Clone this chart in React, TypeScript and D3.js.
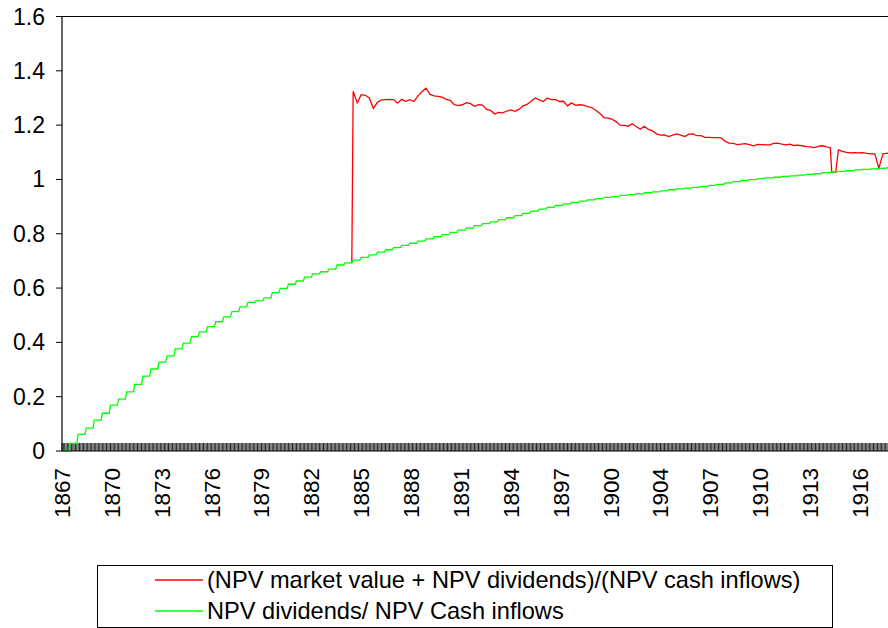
import React from 'react';
import * as d3 from 'd3';

// Category axis: monthly observations starting Jan 1867, label every 37 months
const tickLabels = ['1867', '1870', '1873', '1876', '1879', '1882', '1885', '1888', '1891', '1894', '1897', '1900', '1904', '1907', '1910', '1913', '1916'];
const labelEvery = 37;
const monthCount = 618;

// NPV dividends / NPV cash inflows: one level per half-year (steps at each dividend)
const greenLevels = [
  0, 0.028, 0.061, 0.084, 0.114, 0.139, 0.169, 0.191, 0.218, 0.245,
  0.276, 0.302, 0.327, 0.350, 0.376, 0.397, 0.421, 0.439, 0.458, 0.476,
  0.494, 0.513, 0.531, 0.547, 0.553, 0.564, 0.583, 0.599, 0.614, 0.626,
  0.640, 0.652, 0.660, 0.670, 0.685, 0.693, 0.703,
  0.713, 0.722, 0.732, 0.741, 0.749, 0.757, 0.765, 0.773, 0.781, 0.789,
  0.797, 0.805, 0.813, 0.821, 0.830, 0.837, 0.844, 0.852, 0.859, 0.867,
  0.875, 0.883, 0.891, 0.897, 0.904, 0.910, 0.915, 0.920, 0.925, 0.929,
  0.934, 0.937, 0.941, 0.944, 0.947, 0.951, 0.954, 0.958, 0.962, 0.965,
  0.968, 0.971, 0.974, 0.978, 0.982, 0.987, 0.992, 0.996, 0.999, 1.003,
  1.006, 1.008, 1.011, 1.013, 1.016, 1.019, 1.021, 1.025, 1.027, 1.030,
  1.032, 1.035, 1.037, 1.039, 1.041, 1.043,
];

// (NPV market value + NPV dividends)/(NPV cash inflows): sampled every 3 months from Jan 1885
const redStart = 216;
const redStep = 3;
const redValues: (number | null)[] = [
  1.325, 1.282, 1.312, 1.310, 1.300, 1.262, 1.284, 1.293, 1.294, 1.295,
  1.294, 1.281, 1.295, 1.288, 1.294, 1.287, 1.307, 1.323, 1.336, 1.313,
  1.308, 1.306, 1.303, 1.295, 1.291, 1.275, 1.272, 1.275, 1.283, 1.279,
  1.269, 1.275, 1.274, 1.258, 1.254, 1.241, 1.247, 1.245, 1.252, 1.256,
  1.251, 1.258, 1.271, 1.276, 1.288, 1.300, 1.293, 1.287, 1.300, 1.294,
  1.295, 1.287, 1.288, 1.271, 1.282, 1.273, 1.275, 1.274, 1.268, 1.264,
  1.255, 1.243, 1.228, 1.226, 1.222, 1.213, 1.200, 1.199, 1.196, 1.205,
  1.195, 1.185, 1.196, 1.184, 1.179, 1.168, 1.163, 1.164, 1.158, 1.163,
  1.168, 1.163, 1.158, 1.167, 1.168, 1.161, 1.161, 1.155, 1.155, 1.154,
  1.154, 1.153, 1.140, 1.134, 1.133, 1.128, 1.130, 1.132, 1.128, 1.124,
  1.129, 1.128, 1.127, 1.127, 1.133, 1.134, 1.130, 1.127, 1.130, 1.125,
  1.126, 1.124, 1.121, 1.120, 1.117, 1.122, 1.124, 1.120, 1.117, null,
  1.109, 1.103, 1.100, 1.098, 1.099, 1.098, 1.099, 1.096, 1.094, 1.094,
  null, 1.094, 1.096, 1.098,
];
// months without a market value (exchange closed) -> ratio falls back to dividends only
const closedMonths = [571, 572, 573, 574, 606];

const yTickValues = [0, 0.2, 0.4, 0.6, 0.8, 1, 1.2, 1.4, 1.6];
const yTickLabels = ['0', '0.2', '0.4', '0.6', '0.8', '1', '1.2', '1.4', '1.6'];
const seriesNames = ['(NPV market value + NPV dividends)/(NPV cash inflows)', 'NPV dividends/ NPV Cash inflows'];
const seriesColors = ['#ff0000', '#00ff00'];

const FONT = 'Arial, "Liberation Sans", sans-serif';

export default function App() {
  const W = 888;
  const H = 628;
  const x = d3.scaleLinear().domain([0, 592]).range([62, 860]);
  const y = d3.scaleLinear().domain([0, 1.6]).range([451, 16.5]);

  const greenAt = (i: number) => greenLevels[Math.min(Math.floor(i / 6), greenLevels.length - 1)];
  const greenPts: [number, number][] = d3.range(monthCount).map((i) => [i, greenAt(i)]);

  const redPts: [number, number][] = [[redStart - 1, greenAt(redStart - 1)]];
  redValues.forEach((v, k) => {
    const i = redStart + k * redStep;
    if (v != null && !closedMonths.includes(i)) redPts.push([i, v]);
  });
  closedMonths.forEach((i) => redPts.push([i, greenAt(i)]));
  redPts.sort((a, b) => a[0] - b[0]);

  const line = d3
    .line<[number, number]>()
    .x((d) => x(d[0]))
    .y((d) => y(d[1]));

  const y0 = y(0);
  const tickPath = d3
    .range(monthCount)
    .map((i) => `M${x(i)},${y0}V${y0 - 8}`)
    .join('');

  return (
    <svg width={W} height={H} style={{ position: 'absolute', left: 0, top: 0, background: '#fff' }} fontFamily={FONT}>
      <rect x={0} y={0} width={W} height={H} fill="#fff" />
      {/* plot area top border */}
      <line x1={62} x2={W} y1={y(1.6)} y2={y(1.6)} stroke="#000" strokeWidth={1} />
      {/* category tick marks */}
      <path d={tickPath} stroke="#000" strokeWidth={0.85} fill="none" />
      {/* series */}
      <path d={line(redPts) || ''} stroke={seriesColors[0]} strokeWidth={1.3} fill="none" />
      <path d={line(greenPts) || ''} stroke={seriesColors[1]} strokeWidth={1.3} fill="none" />
      {/* axes */}
      <line x1={62} x2={W} y1={y0} y2={y0} stroke="#000" strokeWidth={1.2} />
      <line x1={62} x2={62} y1={y(1.6)} y2={y0} stroke="#000" strokeWidth={1.2} />
      {yTickValues.map((v, k) => (
        <g key={k}>
          <line x1={56} x2={62} y1={y(v)} y2={y(v)} stroke="#000" strokeWidth={1} />
          <text x={45} y={y(v)} dy="0.35em" textAnchor="end" fontSize={23} fill="#000">
            {yTickLabels[k]}
          </text>
        </g>
      ))}
      {tickLabels.map((t, k) => (
        <text
          key={t}
          transform={`translate(${x(k * labelEvery)},468) rotate(-90)`}
          dy="0.35em"
          textAnchor="end"
          fontSize={22.5}
          fill="#000"
        >
          {t}
        </text>
      ))}
      {/* legend */}
      <rect x={97.5} y={565.5} width={735} height={62} fill="#fff" stroke="#000" strokeWidth={1} />
      {seriesNames.map((name, k) => (
        <g key={name}>
          <line x1={155} x2={203} y1={580 + k * 31} y2={580 + k * 31} stroke={seriesColors[k]} strokeWidth={1.3} />
          <text x={207} y={580 + k * 31} dy="0.35em" fontSize={23.6} fill="#000">
            {name}
          </text>
        </g>
      ))}
    </svg>
  );
}
